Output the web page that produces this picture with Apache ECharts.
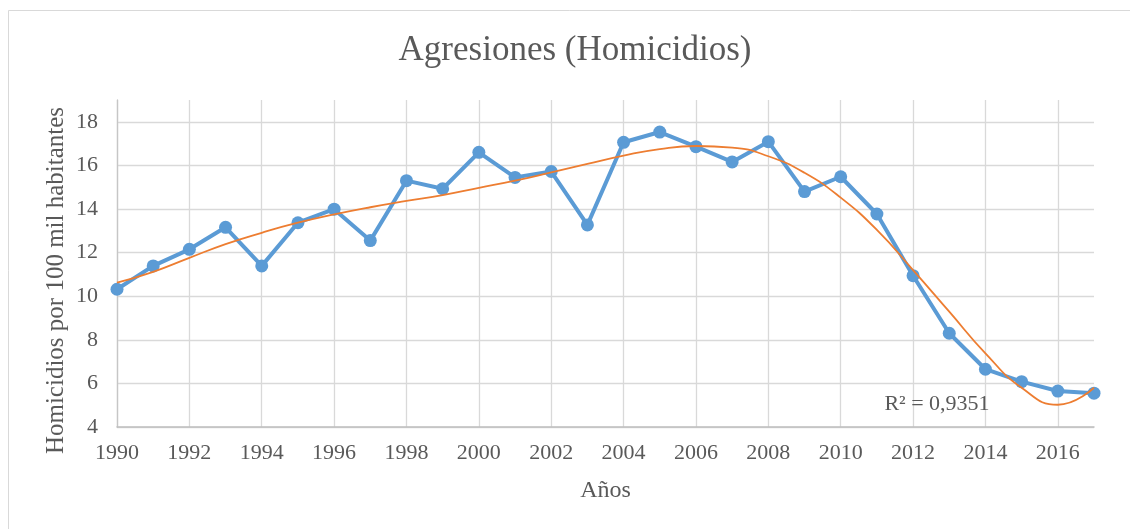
<!DOCTYPE html>
<html>
<head>
<meta charset="utf-8">
<script src="https://cdn.jsdelivr.net/npm/echarts@6/dist/echarts.min.js"></script>
<style>html,body{margin:0;padding:0;background:#fff;}#c{width:1130px;height:529px;}</style>
</head>
<body>
<div id="c"></div>
<script>
var years = ['1990','1991','1992','1993','1994','1995','1996','1997','1998','1999','2000','2001','2002','2003','2004','2005','2006','2007','2008','2009','2010','2011','2012','2013','2014','2015','2016','2017'];
var homicidios = [10.32,11.39,12.15,13.16,11.39,13.37,13.99,12.55,15.3,14.93,16.6,15.45,15.72,13.27,17.06,17.53,16.86,16.16,17.09,14.8,15.48,13.77,10.94,8.3,6.65,6.08,5.65,5.55];
var tendencia = [10.62,11.12,11.76,12.39,12.91,13.37,13.75,14.08,14.37,14.64,14.97,15.3,15.68,16.07,16.45,16.75,16.89,16.82,16.42,15.66,14.52,13.04,11.2,9.29,7.38,5.8,5.02,5.8];
var titleText = 'Agresiones (Homicidios)';
var yName = 'Homicidios por 100 mil habitantes';
var xName = 'Años';
var r2Text = 'R² = 0,9351';

var FONT = '"Liberation Serif", "Times New Roman", serif';
var TXT = '#595959';
var chart = echarts.init(document.getElementById('c'), null, {renderer: 'canvas'});
chart.setOption({
  backgroundColor: '#ffffff',
  animation: false,
  grid: {left: 117, right: 36, top: 100, bottom: 102},
  xAxis: {
    type: 'category',
    data: years,
    boundaryGap: false,
    name: xName,
    nameLocation: 'middle',
    nameGap: 52,
    nameTextStyle: {fontFamily: FONT, fontSize: 24, color: TXT},
    axisLine: {show: true, lineStyle: {color: '#bfbfbf', width: 1.5}},
    axisTick: {show: false},
    axisLabel: {interval: 1, margin: 15, fontFamily: FONT, fontSize: 22, color: TXT},
    splitLine: {show: true, interval: 1, lineStyle: {color: '#d9d9d9', width: 1.3}}
  },
  yAxis: {
    type: 'value',
    min: 4,
    max: 19,
    interval: 2,
    axisLine: {show: true, lineStyle: {color: '#c6c6c6', width: 1.3}},
    axisTick: {show: false},
    axisLabel: {margin: 19, showMaxLabel: false, fontFamily: FONT, fontSize: 22, color: TXT},
    splitLine: {show: true, showMaxLine: false, lineStyle: {color: '#d9d9d9', width: 1.3}}
  },
  series: [
    {
      type: 'line',
      data: homicidios,
      symbol: 'circle',
      symbolSize: 13,
      lineStyle: {color: '#5B9BD5', width: 4},
      itemStyle: {color: '#5B9BD5'},
      z: 2
    },
    {
      type: 'line',
      data: tendencia,
      smooth: true,
      showSymbol: false,
      symbol: 'none',
      lineStyle: {color: '#ED7D31', width: 1.8},
      z: 3
    }
  ],
  graphic: [
    {type: 'rect', shape: {x: 8.5, y: 10.5, width: 1140, height: 540}, style: {fill: null, stroke: '#d9d9d9', lineWidth: 1}, silent: true},
    {type: 'text', x: 575, y: 51, style: {text: titleText, font: '35px ' + FONT, fill: TXT, textAlign: 'center', textVerticalAlign: 'middle'}},
    {type: 'text', x: 56, y: 280.5, rotation: Math.PI / 2, style: {text: yName, font: '25px ' + FONT, fill: TXT, textAlign: 'center', textVerticalAlign: 'middle'}},
    {type: 'text', x: 937, y: 404, style: {text: r2Text, font: '22px ' + FONT, fill: TXT, textAlign: 'center', textVerticalAlign: 'middle'}, z: 10}
  ]
});
</script>
</body>
</html>
